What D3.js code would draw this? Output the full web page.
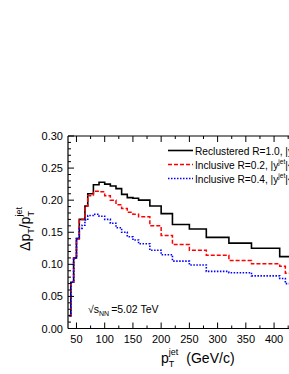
<!DOCTYPE html>
<html>
<head>
<meta charset="utf-8">
<script src="https://cdn.jsdelivr.net/npm/d3@7"></script>
<style>
  html, body { margin: 0; padding: 0; background: #fff; }
  svg { display: block; font-family: "Liberation Sans", Arial, sans-serif; }
</style>
</head>
<body>
<div id="chart"></div>
<script>
// bin edges in pT (GeV/c), one more than values
const edges = [37.5, 40, 45, 50, 55, 60, 65, 70, 80, 90, 100, 110, 120, 130, 140, 150,
  160, 180, 200, 220, 250, 280, 320, 360, 410, 420, 430];

const reclustered10 = [0.020, 0.072, 0.110, 0.140, 0.170, 0.170, 0.191, 0.210, 0.224, 0.228,
  0.225, 0.222, 0.218, 0.209, 0.204, 0.203, 0.200, 0.191, 0.179, 0.162, 0.155, 0.142,
  0.133, 0.125, 0.112, 0.112];
const inclusive02 = [0.020, 0.072, 0.110, 0.140, 0.170, 0.170, 0.191, 0.207, 0.214, 0.213,
  0.207, 0.200, 0.193, 0.187, 0.181, 0.178, 0.174, 0.160, 0.145, 0.131, 0.122, 0.114,
  0.106, 0.101, 0.097, 0.086];
const inclusive04 = [0.020, 0.072, 0.110, 0.140, 0.156, 0.161, 0.169, 0.176, 0.178, 0.175,
  0.170, 0.164, 0.157, 0.150, 0.143, 0.138, 0.132, 0.122, 0.115, 0.105, 0.099, 0.089,
  0.087, 0.082, 0.078, 0.070];

const xMajor = [50, 100, 150, 200, 250, 300, 350, 400];
const xMinor = [75, 125, 175, 225, 275, 325, 375, 425];
const yMajor = [0.00, 0.05, 0.10, 0.15, 0.20, 0.25, 0.30];
const yMinor = [0.01, 0.02, 0.03, 0.04, 0.06, 0.07, 0.08, 0.09, 0.11, 0.12, 0.13, 0.14,
  0.16, 0.17, 0.18, 0.19, 0.21, 0.22, 0.23, 0.24, 0.26, 0.27, 0.28, 0.29];

const series = [
  { key: "rec", values: reclustered10, color: "#000", dash: null, width: 1.6,
    label: "Reclustered R=1.0, |y", sup: "jet", tail: "|<2.0" },
  { key: "inc02", values: inclusive02, color: "#ff0000", dash: "4,2", width: 1.5,
    label: "Inclusive R=0.2, |y", sup: "jet", tail: "|<2.0" },
  { key: "inc04", values: inclusive04, color: "#0000ff", dash: "1.5,1.5", width: 1.6,
    label: "Inclusive R=0.4, |y", sup: "jet", tail: "|<2.0" },
];

const W = 289, H = 374;
const margin = { top: 136, left: 68, bottom: 45.5 };
const plotRight = 291;

const svg = d3.select("#chart").append("svg")
  .attr("width", W).attr("height", H).attr("viewBox", `0 0 ${W} ${H}`);

const x = d3.scaleLinear().domain([35, 430]).range([margin.left, plotRight]);
const y = d3.scaleLinear().domain([0, 0.30]).range([H - margin.bottom, margin.top]);

// histograms as steps
const line = d3.line()
  .x((d) => x(d[0]))
  .y((d) => y(d[1]))
  .curve(d3.curveStepAfter);

series.forEach((s) => {
  const pts = s.values.map((v, i) => [edges[i], v]);
  pts.push([edges[edges.length - 1], s.values[s.values.length - 1]]);
  svg.append("path")
    .attr("d", line(pts))
    .attr("fill", "none")
    .attr("stroke", s.color)
    .attr("stroke-width", s.width)
    .attr("stroke-dasharray", s.dash);
});

// frame
const y0 = y(0), y1 = y(0.30);
svg.append("line").attr("x1", x(35)).attr("x2", x(35)).attr("y1", y1).attr("y2", y0)
  .attr("stroke", "#000").attr("stroke-width", 1.2);
svg.append("line").attr("x1", x(35)).attr("x2", plotRight).attr("y1", y0).attr("y2", y0)
  .attr("stroke", "#000").attr("stroke-width", 1.2);
svg.append("line").attr("x1", x(35)).attr("x2", plotRight).attr("y1", y1).attr("y2", y1)
  .attr("stroke", "#000").attr("stroke-width", 1.2);

// ticks (inward)
const tickG = svg.append("g").attr("stroke", "#000").attr("stroke-width", 1);
function xTicks(vals, len) {
  tickG.selectAll(null).data(vals).enter().append("line")
    .attr("x1", (d) => x(d)).attr("x2", (d) => x(d))
    .attr("y1", y0).attr("y2", y0 - len);
  tickG.selectAll(null).data(vals).enter().append("line")
    .attr("x1", (d) => x(d)).attr("x2", (d) => x(d))
    .attr("y1", y1).attr("y2", y1 + len);
}
function yTicks(vals, len) {
  tickG.selectAll(null).data(vals).enter().append("line")
    .attr("x1", x(35)).attr("x2", x(35) + len)
    .attr("y1", (d) => y(d)).attr("y2", (d) => y(d));
}
xTicks(xMajor, 6);
xTicks(xMinor, 3);
yTicks(yMajor, 6);
yTicks(yMinor, 3);

// tick labels
svg.append("g").selectAll("text").data(xMajor).enter().append("text")
  .attr("x", (d) => x(d)).attr("y", y0 + 14)
  .attr("text-anchor", "middle").attr("font-size", 11)
  .text((d) => d);
svg.append("g").selectAll("text").data(yMajor).enter().append("text")
  .attr("x", x(35) - 5).attr("y", (d) => y(d) + 4)
  .attr("text-anchor", "end").attr("font-size", 11)
  .text((d) => d.toFixed(2));

// axis titles
const xt = svg.append("text").attr("x", 161).attr("y", 363).attr("font-size", 14);
xt.append("tspan").text("p");
xt.append("tspan").attr("font-size", 9).attr("dy", 4).text("T");
xt.append("tspan").attr("font-size", 9).attr("dx", -5.5).attr("dy", -12).text("jet");
xt.append("tspan").attr("dy", 8).attr("dx", 8).text("(GeV/c)");

const yt = svg.append("text")
  .attr("transform", `translate(30, 229) rotate(-90)`)
  .attr("text-anchor", "middle").attr("font-size", 14);
yt.append("tspan").text("Δp");
yt.append("tspan").attr("font-size", 9).attr("dy", 4).text("T");
yt.append("tspan").attr("dy", -4).text("/p");
yt.append("tspan").attr("font-size", 9).attr("dy", 4).text("T");
yt.append("tspan").attr("font-size", 9).attr("dx", -5.5).attr("dy", -12).text("jet");

// energy label
const et = svg.append("text").attr("x", 88).attr("y", 313).attr("font-size", 10.5);
et.append("tspan").text("√s");
et.append("tspan").attr("font-size", 7).attr("dy", 3).text("NN");
et.append("tspan").attr("dy", -3).attr("dx", 2).text("=5.02 TeV");

// legend (runs past the right edge, as in the original figure)
const legend = svg.append("g");
series.forEach((s, i) => {
  const ly = 150.5 + i * 14;
  legend.append("line")
    .attr("x1", 168).attr("x2", 193).attr("y1", ly).attr("y2", ly)
    .attr("stroke", s.color).attr("stroke-width", s.width)
    .attr("stroke-dasharray", s.dash);
  const t = legend.append("text").attr("x", 195).attr("y", ly + 4).attr("font-size", 10.2);
  t.append("tspan").text(s.label);
  t.append("tspan").attr("font-size", 6.5).attr("dy", -5).text(s.sup);
  t.append("tspan").attr("dy", 5).text(s.tail);
});
</script>
</body>
</html>
